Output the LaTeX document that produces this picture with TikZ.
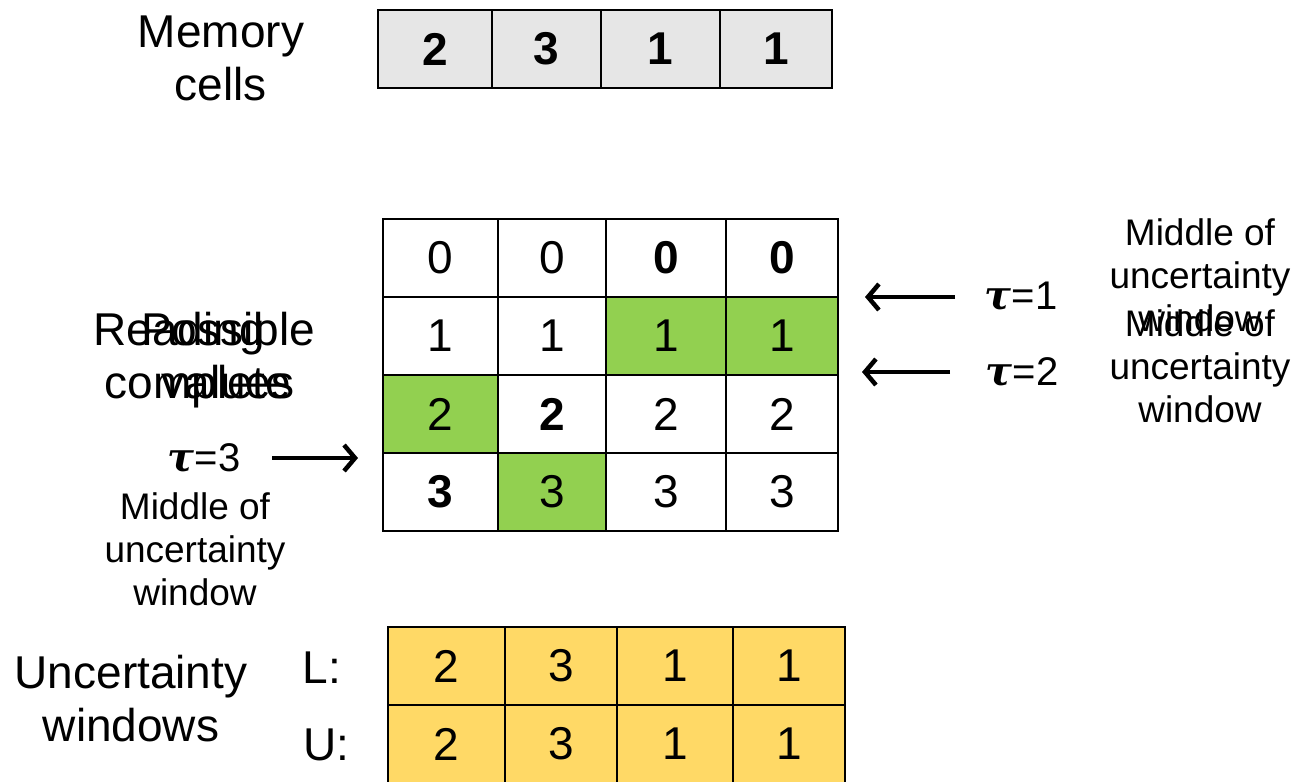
\documentclass[tikz,border=0pt]{standalone}
\usepackage{fontspec}
\setmainfont{Liberation Sans}
\newfontfamily\taufont{DejaVu Serif}
\usetikzlibrary{arrows.meta}
\definecolor{memgray}{HTML}{E6E6E6}
\definecolor{okgreen}{HTML}{92D050}
\definecolor{wingold}{HTML}{FFD966}
\newcommand\tausym{{\taufont\bfseries\itshape τ}}
\tikzset{
  cellbox/.style={draw, line width=2pt, minimum height=78pt, inner sep=0pt, anchor=center,
    font=\fontsize{46}{46}\selectfont},
  memcell/.style={cellbox, fill=memgray},
  wincell/.style={cellbox, fill=wingold},
  biglabel/.style={align=center, inner sep=0pt, font=\fontsize{46}{53}\selectfont},
  smalllabel/.style={align=center, inner sep=0pt, font=\fontsize{37}{43}\selectfont},
  taulabel/.style={inner sep=0pt, font=\fontsize{40}{40}\selectfont},
  tauarrow/.style={line width=4.5pt, -{Straight Barb[length=11pt,width=26pt]}}
}
\begin{document}
\begin{tikzpicture}[x=1pt,y=-1pt]
\useasboundingbox (0,0) rectangle (1299,782);
% memory cells
\foreach \x/\w/\v [count=\i] in {435/114/2, 546.5/109/3, 660.5/119/1, 776/112/1}
  \node[memcell, minimum width=\w pt] (m\i) at (\x,49) {\textbf{\v}};
\node[biglabel] (memlbl) at (221,63) {\strut Memory\\cells\strut};
% grid of possible values
\foreach \x/\w/\c/\v [count=\i] in {440.5/115/white/0, 552/108/white/0, 666/120/white/{\textbf{0}}, 782/112/white/{\textbf{0}}}
  \node[cellbox, fill=\c, minimum width=\w pt] (ga\i) at (\x,258) {\v};
\foreach \x/\w/\c/\v [count=\i] in {440.5/115/white/1, 552/108/white/1, 666/120/okgreen/1, 782/112/okgreen/1}
  \node[cellbox, fill=\c, minimum width=\w pt] (gb\i) at (\x,336) {\v};
\foreach \x/\w/\c/\v [count=\i] in {440.5/115/okgreen/2, 552/108/white/{\textbf{2}}, 666/120/white/2, 782/112/white/2}
  \node[cellbox, fill=\c, minimum width=\w pt] (gc\i) at (\x,414) {\v};
\foreach \x/\w/\c/\v [count=\i] in {440.5/115/white/{\textbf{3}}, 552/108/okgreen/3, 666/120/white/3, 782/112/white/3}
  \node[cellbox, fill=\c, minimum width=\w pt] (gd\i) at (\x,492) {\v};
% overlapping labels (as in the reference)
\node[biglabel] (readlbl) at (179,361) {\strut Reading\\\hspace*{38pt}complete\strut};
\node[biglabel] (posslbl) at (228,361) {\strut Possible\\values\strut};
% tau labels and arrows
\node[taulabel] (t1) at (1021,297) {\tausym=1};
\node[taulabel] (t2) at (1022,372) {\tausym=2};
\node[taulabel] (t3) at (204,458) {\tausym=3};
\coordinate (a1s) at (955,297); \coordinate (a1e) at (865,297);
\coordinate (a2s) at (950,372); \coordinate (a2e) at (862,372);
\coordinate (a3s) at (272,458); \coordinate (a3e) at (358,458);
\draw[tauarrow] (a1s) -- (a1e);
\draw[tauarrow] (a2s) -- (a2e);
\draw[tauarrow] (a3s) -- (a3e);
\node[smalllabel] (mid1) at (1200,280) {\strut Middle of\\uncertainty\\window\strut};
\node[smalllabel] (mid2) at (1200,371) {\strut Middle of\\uncertainty\\window\strut};
\node[smalllabel] (mid3) at (195,554) {\strut Middle of\\uncertainty\\window\strut};
% uncertainty windows
\foreach \x/\w/\v [count=\i] in {446.5/117/2, 561/112/3, 675/116/1, 789/112/1}
  \node[wincell, minimum width=\w pt] (wl\i) at (\x,666) {\v};
\foreach \x/\w/\v [count=\i] in {446.5/117/2, 561/112/3, 675/116/1, 789/112/1}
  \node[wincell, minimum width=\w pt] (wu\i) at (\x,744) {\v};
\node[biglabel] (unclbl) at (131,704) {\strut Uncertainty\\windows\strut};
\node[biglabel] (llbl) at (322,668) {L:};
\node[biglabel] (ulbl) at (326,745) {U:};
\end{tikzpicture}
\end{document}
